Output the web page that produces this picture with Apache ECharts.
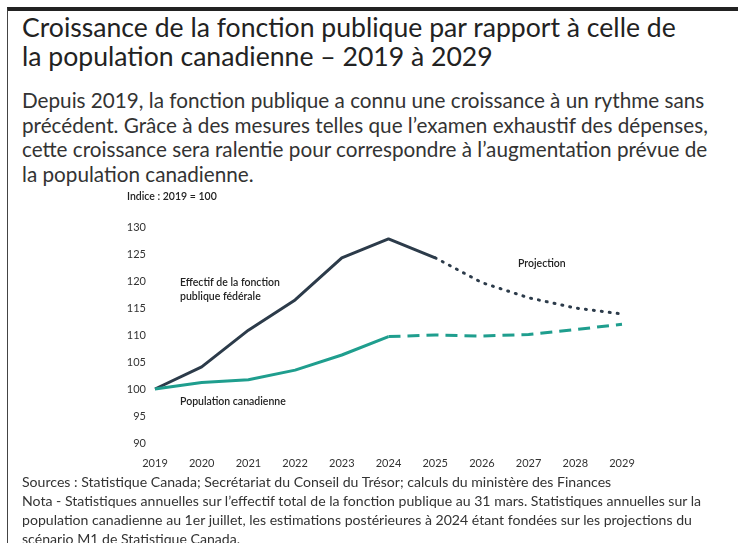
<!DOCTYPE html>
<html>
<head>
<meta charset="utf-8">
<script src="https://cdn.jsdelivr.net/npm/echarts@6/dist/echarts.min.js"></script>
<style>
  html, body { margin: 0; padding: 0; background: #fff; }
  body { width: 738px; height: 543px; position: relative; overflow: hidden; font-family: Lato, "Open Sans", sans-serif; color: #222; }
  #frame { position: absolute; left: 7px; top: 7px; right: 0; bottom: 0; border-left: 1px solid #444; border-top: 4px solid #222; }
  #title { position: absolute; left: 22px; top: 13px; font-size: 26.6px; line-height: 29px; white-space: nowrap; color: #222; }
  #lead { position: absolute; left: 22px; top: 88px; font-size: 20.7px; line-height: 24.5px; white-space: nowrap; color: #333; }
  #notes { position: absolute; left: 22px; top: 472px; font-size: 14.1px; line-height: 19px; white-space: nowrap; color: #333; }
  #main { position: absolute; left: 0; top: 185px; width: 738px; height: 290px; }
</style>
</head>
<body>
<div id="frame"></div>
<div id="title">Croissance de la fonction publique par rapport à celle de<br>la population canadienne – 2019 à 2029</div>
<div id="lead">Depuis 2019, la fonction publique a connu une croissance à un rythme sans<br>précédent. Grâce à des mesures telles que l’examen exhaustif des dépenses,<br>cette croissance sera ralentie pour correspondre à l’augmentation prévue de<br>la population canadienne.</div>
<div id="main"></div>
<div id="notes">Sources : Statistique Canada; Secrétariat du Conseil du Trésor; calculs du ministère des Finances<br>Nota - Statistiques annuelles sur l’effectif total de la fonction publique au 31 mars. Statistiques annuelles sur la<br>population canadienne au 1er juillet, les estimations postérieures à 2024 étant fondées sur les projections du<br>scénario M1 de Statistique Canada.</div>
<script>
// années et valeurs (indice 2019 = 100)
var years = ['2019', '2020', '2021', '2022', '2023', '2024', '2025', '2026', '2027', '2028', '2029'];
var fonctionReel = [100, 104.1, 110.9, 116.5, 124.3, 127.8, 124.3, '-', '-', '-', '-'];
var fonctionProj = ['-', '-', '-', '-', '-', '-', 124.3, 119.7, 116.9, 115.0, 113.9];
var populationReel = [100, 101.2, 101.7, 103.5, 106.3, 109.7, '-', '-', '-', '-', '-'];
var populationProj = ['-', '-', '-', '-', '-', 109.7, 110.0, 109.8, 110.1, 111.0, 112.0];

var dark = '#2c3b4a';
var teal = '#1f9e8e';

var myChart = echarts.init(document.getElementById('main'));
myChart.setOption({
    animation: false,
    textStyle: { fontFamily: 'Lato' },
    grid: { left: 155, right: 116, top: 42, bottom: 32 },
    xAxis: {
        type: 'category',
        data: years,
        boundaryGap: false,
        axisLine: { show: false },
        axisTick: { show: false },
        axisLabel: { color: '#333', fontSize: 11, margin: 15 }
    },
    yAxis: {
        type: 'value',
        min: 90,
        max: 130,
        interval: 5,
        splitLine: { show: false },
        axisLine: { show: false },
        axisTick: { show: false },
        axisLabel: { color: '#333', fontSize: 11, margin: 9 }
    },
    graphic: [
        { type: 'text', left: 127, top: 6, style: { text: 'Indice : 2019 = 100', fontSize: 10.5, fontWeight: 600, fill: '#222', fontFamily: 'Lato' } },
        { type: 'text', left: 180, top: 91, style: { text: 'Effectif de la fonction\npublique fédérale', fontSize: 10.5, lineHeight: 14, fontWeight: 600, fill: '#222', fontFamily: 'Lato' } },
        { type: 'text', left: 180, top: 211, style: { text: 'Population canadienne', fontSize: 10.5, fontWeight: 600, fill: '#222', fontFamily: 'Lato' } },
        { type: 'text', left: 518, top: 73, style: { text: 'Projection', fontSize: 10.5, fontWeight: 600, fill: '#222', fontFamily: 'Lato' } }
    ],
    series: [
        { name: 'Effectif', type: 'line', data: fonctionReel, symbol: 'none', lineStyle: { color: dark, width: 3 } },
        { name: 'Effectif projection', type: 'line', data: fonctionProj, symbol: 'none', lineStyle: { color: dark, width: 3, type: [1, 7], cap: 'round' } },
        { name: 'Population', type: 'line', data: populationReel, symbol: 'none', lineStyle: { color: teal, width: 3 } },
        { name: 'Population projection', type: 'line', data: populationProj, symbol: 'none', lineStyle: { color: teal, width: 3, type: [12, 7] } }
    ]
});
</script>
</body>
</html>
